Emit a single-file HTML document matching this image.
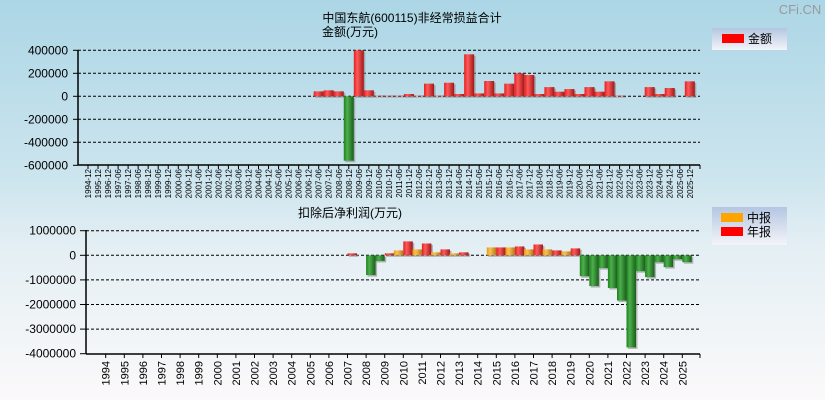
<!DOCTYPE html>
<html><head><meta charset="utf-8">
<style>
html,body{margin:0;padding:0}
body{width:825px;height:400px;overflow:hidden;background:linear-gradient(#acd6e6 0%,#cde5ee 45%,#e4eff4 62%,#fbf9fa 100%);font-family:"Liberation Sans","Noto Sans CJK SC",sans-serif}
svg{display:block}
svg text{font-family:"Liberation Sans","Noto Sans CJK SC",sans-serif}
</style></head><body>
<svg id="c" width="825" height="400" xmlns="http://www.w3.org/2000/svg">
<defs>
<linearGradient id="gr" x1="0" x2="1"><stop offset="0" stop-color="#e02020"/><stop offset="0.35" stop-color="#ff5a5a"/><stop offset="1" stop-color="#a01818"/></linearGradient>
<linearGradient id="gg" x1="0" x2="1"><stop offset="0" stop-color="#1f7f1f"/><stop offset="0.35" stop-color="#4cb04c"/><stop offset="1" stop-color="#1a5e1a"/></linearGradient>
<linearGradient id="go" x1="0" x2="1"><stop offset="0" stop-color="#e89a10"/><stop offset="0.35" stop-color="#ffc050"/><stop offset="1" stop-color="#b07a20"/></linearGradient>
<linearGradient id="lg" x1="0" y1="0" x2="0" y2="1"><stop offset="0" stop-color="#b4c6e2"/><stop offset="1" stop-color="#f4f4f8"/></linearGradient>
</defs>
<text x="800" y="14" font-size="13" fill="#999" text-anchor="middle">CFi.CN</text>
<text x="412" y="22" font-size="12" text-anchor="middle">中国东航(600115)非经常损益合计</text>
<text x="350" y="36" font-size="12" text-anchor="middle">金额(万元)</text>
<text x="350" y="217" font-size="12" text-anchor="middle">扣除后净利润(万元)</text>
<g>
<rect x="712" y="28" width="75" height="22" fill="url(#lg)"/>
<rect x="722" y="34" width="22" height="9" fill="#ff0000"/>
<text x="748" y="43" font-size="12">金额</text>
</g>
<g>
<rect x="712" y="207" width="75" height="38" fill="url(#lg)"/>
<rect x="721" y="213" width="22" height="9" fill="#ffa500"/>
<text x="747" y="222" font-size="12">中报</text>
<rect x="721" y="227" width="22" height="9" fill="#ff0000"/>
<text x="747" y="236" font-size="12">年报</text>
</g>
<g id="top"></g><g id="bot"></g>
</svg>
<script>
const topCats=["1994-12","1995-12","1996-12","1997-06","1997-12","1998-06","1998-12","1999-06","1999-12","2000-06","2000-12","2001-06","2001-12","2002-06","2002-12","2003-06","2003-12","2004-06","2004-12","2005-06","2005-12","2006-06","2006-12","2007-06","2007-12","2008-06","2008-12","2009-06","2009-12","2010-06","2010-12","2011-06","2011-12","2012-06","2012-12","2013-06","2013-12","2014-06","2014-12","2015-06","2015-12","2016-06","2016-12","2017-06","2017-12","2018-06","2018-12","2019-06","2019-12","2020-06","2020-12","2021-06","2021-12","2022-06","2022-12","2023-06","2023-12","2024-06","2024-12","2025-06","2025-12"];
const topVals=[0,0,0,0,0,0,0,0,0,0,0,0,0,0,0,0,0,0,0,0,0,0,0,43000,52000,43000,-560000,400000,52000,5000,5000,5000,20000,5000,110000,5000,118000,20000,365000,25000,133000,25000,110000,200000,185000,20000,80000,40000,63000,20000,80000,40000,130000,5000,0,0,80000,20000,72000,0,130000];
const topTicks=[400000,200000,0,-200000,-400000,-600000];
const botYears=["1994","1995","1996","1997","1998","1999","2000","2001","2002","2003","2004","2005","2006","2007","2008","2009","2010","2011","2012","2013","2014","2015","2016","2017","2018","2019","2020","2021","2022","2023","2024","2025"];
const botMid=[0,0,0,0,0,0,0,0,0,0,0,0,0,-20000,-10000,-230000,200000,240000,120000,80000,-10000,320000,320000,240000,240000,160000,-850000,-520000,-1840000,-645000,-280000,-160000];
const botAnnual=[0,0,0,0,0,0,0,0,0,0,0,0,0,80000,-805000,80000,565000,480000,240000,120000,-20000,320000,360000,440000,200000,280000,-1250000,-1330000,-3745000,-885000,-480000,-280000];
const botTicks=[1000000,0,-1000000,-2000000,-3000000,-4000000];

const NS="http://www.w3.org/2000/svg";
function mk(p,t,a){const e=document.createElementNS(NS,t);for(const k in a)e.setAttribute(k,a[k]);p.appendChild(e);return e;}
function bar(g,x,w,y0,y1,fill,name){
  const top=Math.min(y0,y1),h=Math.abs(y1-y0);if(h<0.5)return;
  const s=mk(g,'rect',{x:x+1.5,y:top+1.5,width:w,height:h,fill:'#888',opacity:0.6});
  
  
  const r=mk(g,'rect',{x:x,y:top,width:w,height:h,fill:fill});
  
  
}
const T=document.getElementById('top');
const tx0=78,tx1=700,ty=v=>96.3-v/200000*23,tx=i=>88+i*10.03;
topTicks.forEach(v=>{
  const y=ty(v);
  if(v!==-600000){const l=mk(T,'line',{x1:tx0,x2:tx1,y1:y,y2:y,stroke:'#000','stroke-dasharray':'3,2','stroke-width':1});
  
  }
  mk(T,'line',{x1:73,x2:tx0,y1:y,y2:y,stroke:'#000'});
  const t=mk(T,'text',{x:68,y:y+4,'font-size':12,'text-anchor':'end'});t.textContent=v;
  
  
});
mk(T,'line',{x1:tx0,x2:tx0,y1:50,y2:165,stroke:'#000','stroke-width':1.5});
mk(T,'line',{x1:tx0,x2:tx1,y1:165,y2:165,stroke:'#000','stroke-width':1.5});
topCats.forEach((c,i)=>{
  const x=tx(i);
  mk(T,'line',{x1:x,x2:x,y1:165,y2:169,stroke:'#000'});
  const t=mk(T,'text',{x:0,y:0,'font-size':8,transform:`translate(${x+3},169) rotate(-90)`,'text-anchor':'end'});t.textContent=c;
  
  
  const v=topVals[i];
  bar(T,x-5,10,ty(0),ty(v),v<0?'url(#gg)':'url(#gr)','top-bar');
});
mk(T,'line',{x1:tx1,x2:tx1,y1:165,y2:169,stroke:'#000'});
const B=document.getElementById('bot');
const bx0=86,bx1=700,by=v=>255.3-v/1000000*24.6,bx=i=>105.7+i*18.6;
botTicks.forEach(v=>{
  const y=by(v);
  if(v!==-4000000){const l=mk(B,'line',{x1:bx0,x2:bx1,y1:y,y2:y,stroke:'#000','stroke-dasharray':'3,2','stroke-width':1});
  
  }
  mk(B,'line',{x1:80,x2:bx0,y1:y,y2:y,stroke:'#000'});
  const t=mk(B,'text',{x:76,y:y+4,'font-size':12,'text-anchor':'end'});t.textContent=v;
  
  
});
mk(B,'line',{x1:bx0,x2:bx0,y1:230,y2:354,stroke:'#000','stroke-width':1.5});
mk(B,'line',{x1:bx0,x2:bx1,y1:354,y2:354,stroke:'#000','stroke-width':1.5});
mk(B,'line',{x1:bx1,x2:bx1,y1:354,y2:358,stroke:'#000'});
botYears.forEach((yr,i)=>{
  const x=bx(i);
  mk(B,'line',{x1:x,x2:x,y1:354,y2:358,stroke:'#000'});
  const t=mk(B,'text',{x:0,y:0,'font-size':11,transform:`translate(${x+4},361) rotate(-90)`,'text-anchor':'end'});t.textContent=yr;
  
  
  const m=botMid[i],a=botAnnual[i];
  bar(B,x-9.5,9.5,by(0),by(m),m<0?'url(#gg)':'url(#go)','bar-midyear');
  bar(B,x,9.5,by(0),by(a),a<0?'url(#gg)':'url(#gr)','bar-annual');
});
</script>
</body></html>
